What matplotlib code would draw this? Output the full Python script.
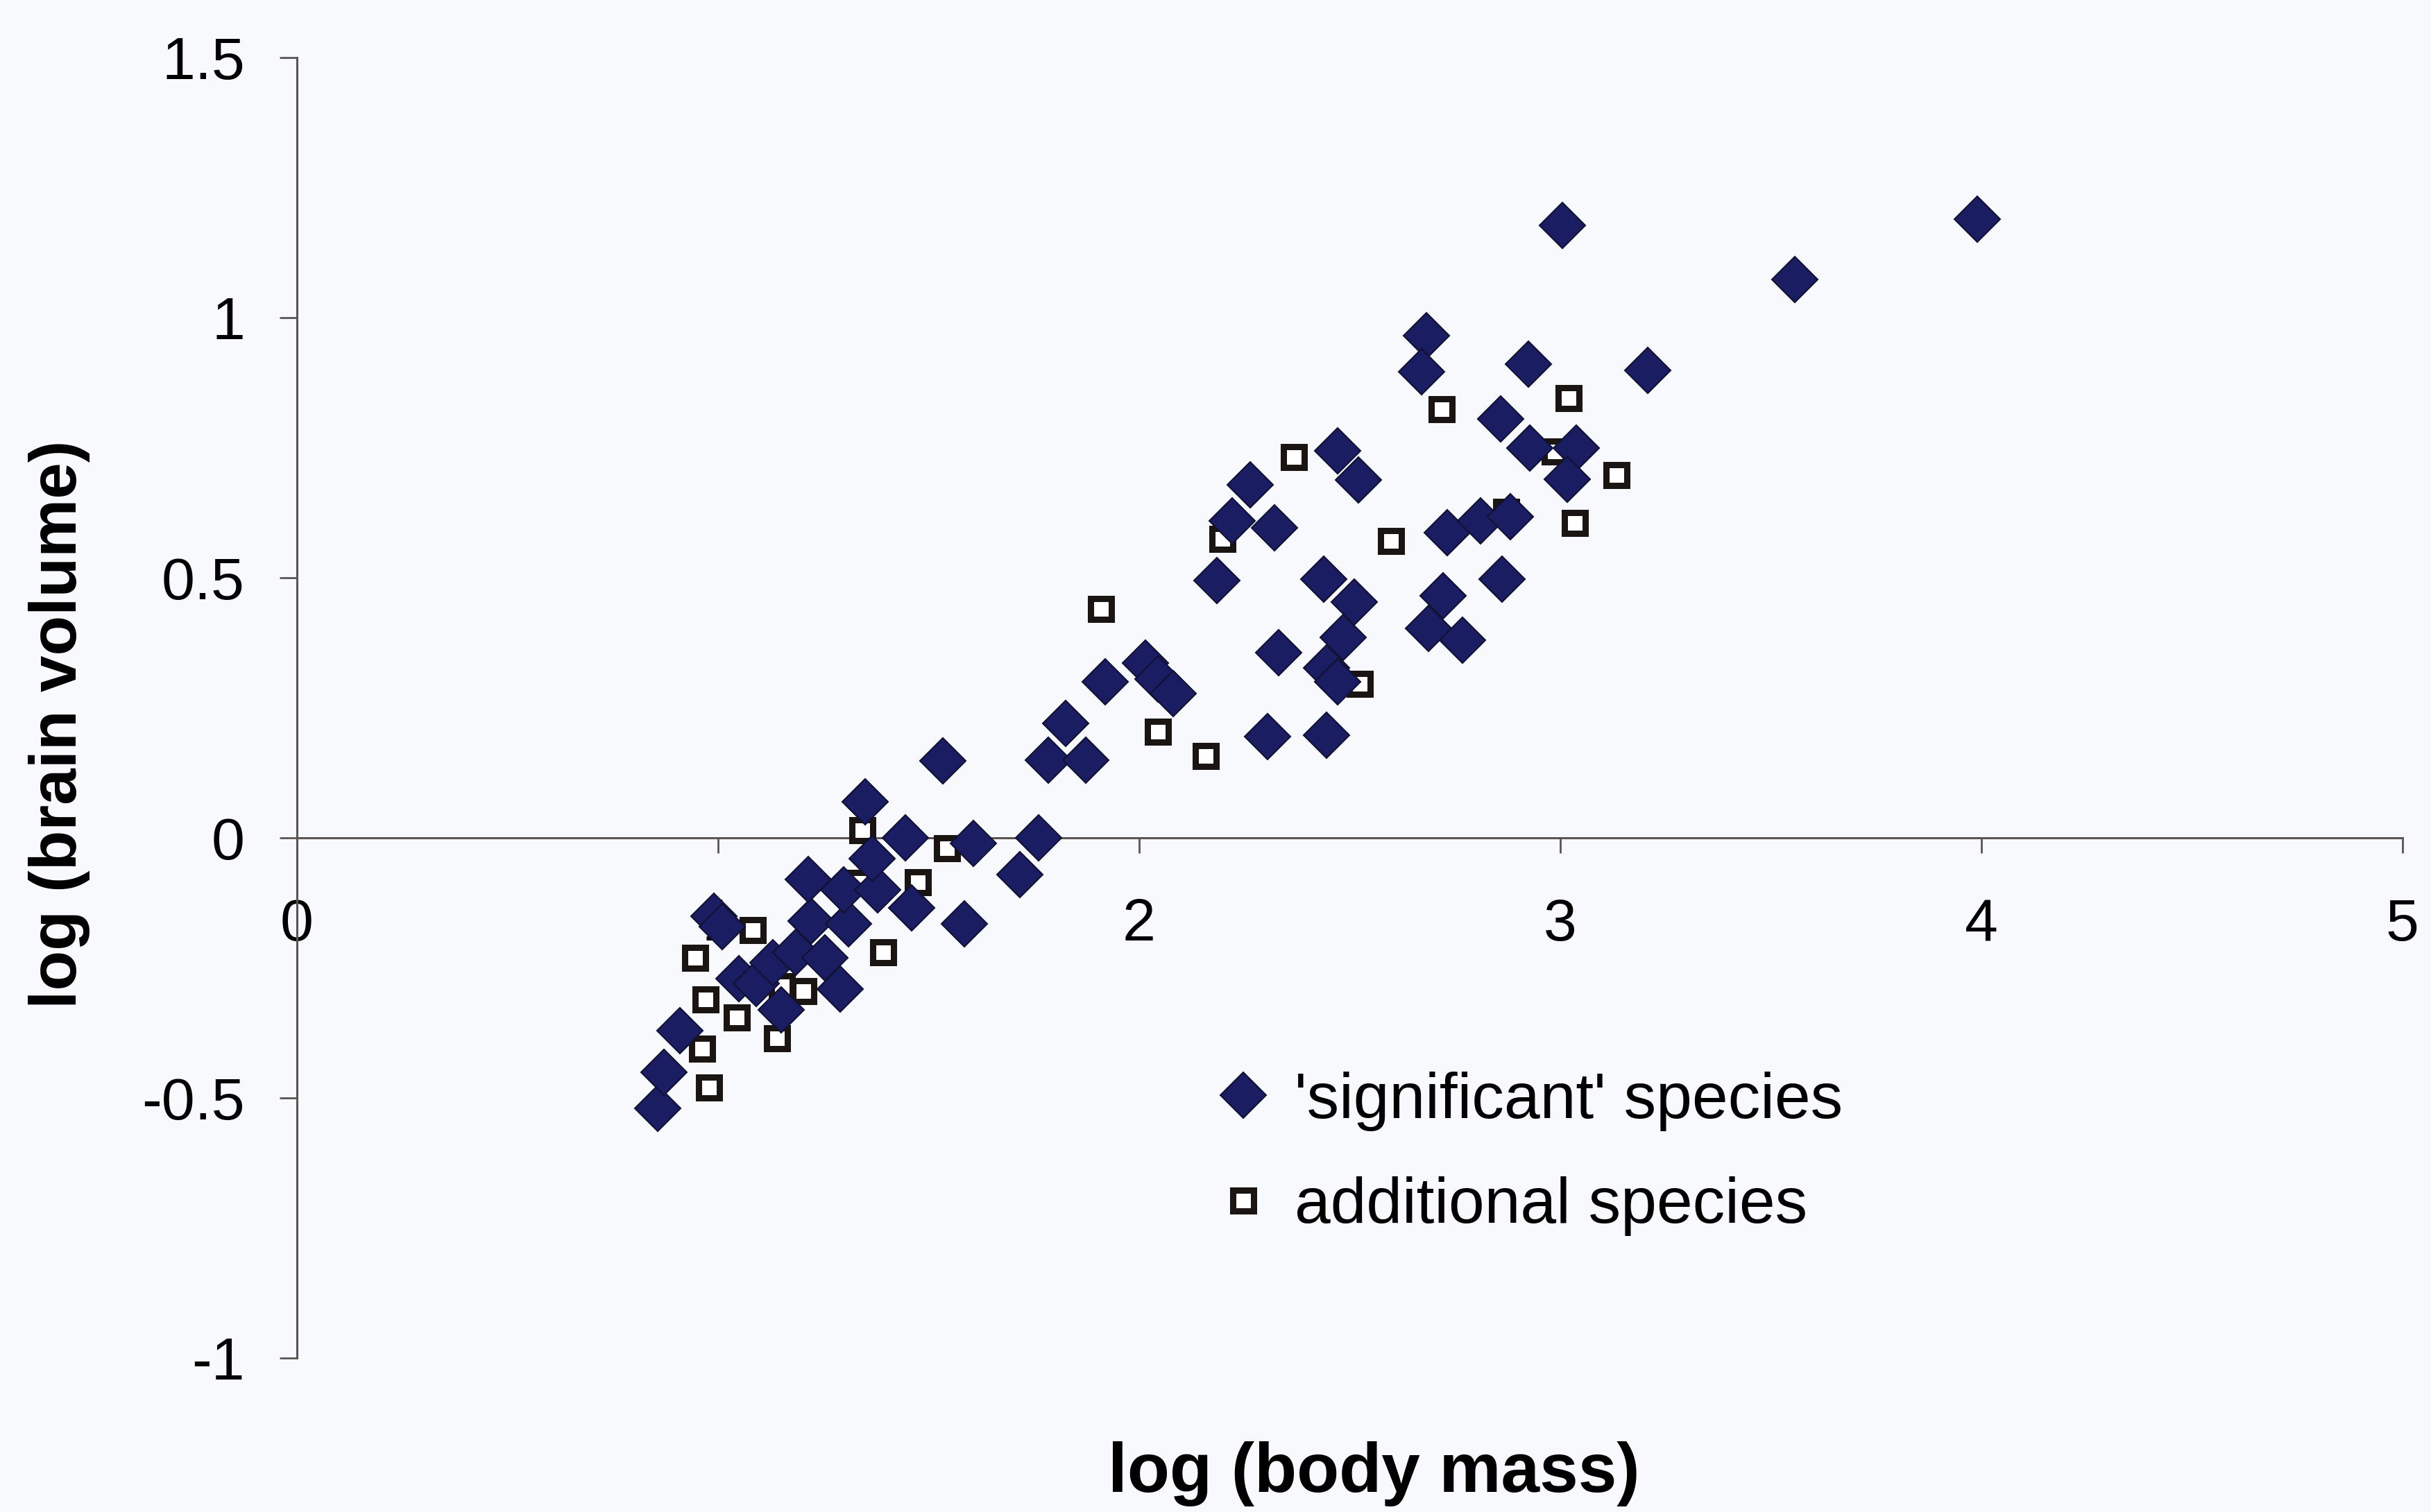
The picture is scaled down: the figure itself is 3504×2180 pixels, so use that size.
import matplotlib
matplotlib.use('Agg')
import matplotlib.pyplot as plt
from matplotlib.lines import Line2D

plt.rcParams['font.family'] = ['Liberation Sans', 'DejaVu Sans']

# log body mass / log brain volume, species that came out significant
sig_mass = [0.857, 0.871, 0.909, 0.99, 1.01, 1.05, 1.09, 1.13, 1.15, 1.184,
            1.22, 1.254, 1.29, 1.31, 1.214, 1.298, 1.379, 1.365, 1.349, 1.445,
            1.46, 1.585, 1.606, 1.534, 1.716, 1.761, 1.785, 1.825, 1.873, 1.92,
            2.015, 2.045, 2.08, 2.305, 2.445, 2.331, 2.445, 2.471, 2.484, 2.511,
            2.438, 2.185, 2.221, 2.264, 2.321, 2.471, 2.521, 2.731, 2.811, 2.881,
            2.862, 2.722, 2.687, 2.768, 2.682, 2.67, 2.924, 3.208, 2.858, 2.928,
            3.038, 3.016, 3.005, 3.557, 3.99]
sig_brain = [-0.52, -0.45, -0.37, -0.15, -0.17, -0.27, -0.28, -0.24, -0.33, -0.22,
             -0.16, -0.23, -0.29, -0.165, -0.08, -0.10, -0.10, -0.04, 0.07, 0.0,
             -0.135, -0.165, -0.01, 0.148, -0.07, 0.0, 0.15, 0.22, 0.15, 0.30,
             0.336, 0.305, 0.278, 0.195, 0.197, 0.356, 0.327, 0.30, 0.386, 0.453,
             0.497, 0.495, 0.609, 0.679, 0.596, 0.744, 0.688, 0.587, 0.609, 0.618,
             0.497, 0.466, 0.403, 0.38, 0.965, 0.896, 0.911, 0.899, 0.806, 0.749,
             0.749, 0.69, 1.177, 1.073, 1.19]

# additional species
add_mass = [0.945, 0.97, 1.044, 0.962, 0.978, 1.082, 1.152, 1.203, 1.14, 1.335,
            1.475, 1.392, 1.343, 1.544, 1.91, 2.044, 2.158, 2.198, 2.367, 2.524,
            2.598, 2.718, 2.872, 3.02, 2.987, 3.133, 3.035]
add_brain = [-0.23, -0.31, -0.345, -0.405, -0.48, -0.177, -0.285, -0.295, -0.385, -0.087,
             -0.085, -0.22, 0.015, -0.02, 0.44, 0.204, 0.157, 0.575, 0.732, 0.296,
             0.571, 0.824, 0.627, 0.845, 0.743, 0.698, 0.605]

xticks = [0, 1, 2, 3, 4, 5]
yticks = [-1, -0.5, 0, 0.5, 1, 1.5]
ytick_labels = ['-1', '-0.5', '0', '0.5', '1', '1.5']

bg = '#f7f9fc'
navy = '#1b1d62'
spine_col = '#5a5552'

diamond = dict(linestyle='none', marker='D', markersize=34,
               markerfacecolor=navy, markeredgecolor='#111133', markeredgewidth=1.5)
square = dict(linestyle='none', marker='s', markersize=22,
              markerfacecolor='white', markeredgecolor='#1a1512', markeredgewidth=6.5)

fig = plt.figure(figsize=(35.05, 21.8), dpi=100, facecolor=bg)
ax = fig.add_axes([428 / 3505, 1 - 1958 / 2180, (3463 - 428) / 3505, (1958 - 83) / 2180])
ax.set_facecolor(bg)

ax.plot(add_mass, add_brain, zorder=3, **square)
ax.plot(sig_mass, sig_brain, zorder=4, **diamond)

ax.set_xlim(0, 5)
ax.set_ylim(-1, 1.5)

for s in ['top', 'right']:
    ax.spines[s].set_visible(False)
ax.spines['bottom'].set_position(('data', 0))
for s in ['left', 'bottom']:
    ax.spines[s].set_color(spine_col)
    ax.spines[s].set_linewidth(2.2)

ax.set_xticks(xticks)
ax.set_xticklabels([str(t) for t in xticks])
ax.set_yticks(yticks)
ax.set_yticklabels(ytick_labels)
ax.tick_params(axis='x', direction='out', length=16, width=2, color=spine_col,
               labelsize=62, pad=46)
ax.tick_params(axis='y', direction='out', length=18, width=2, color=spine_col,
               labelsize=62, pad=36)

fig.text(1980 / 3505, 1 - 2125 / 2180, 'log (body mass)', ha='center', va='center',
         fontsize=72, fontweight='bold')
fig.text(86 / 3505, 1 - 1044 / 2180, 'log (brain volume)', ha='center', va='center',
         rotation=90, fontsize=68, fontweight='bold')

handles = [Line2D([], [], **diamond), Line2D([], [], **square)]
fig.legend(handles, ["'significant' species", 'additional species'],
           loc='upper left', bbox_to_anchor=(1745 / 3505, 1 - 1545 / 2180),
           frameon=False, fontsize=67, handlelength=1.0, handletextpad=0.3,
           labelspacing=0.7, borderpad=0, borderaxespad=0)

fig.savefig('out.png', dpi=100, facecolor=bg)
